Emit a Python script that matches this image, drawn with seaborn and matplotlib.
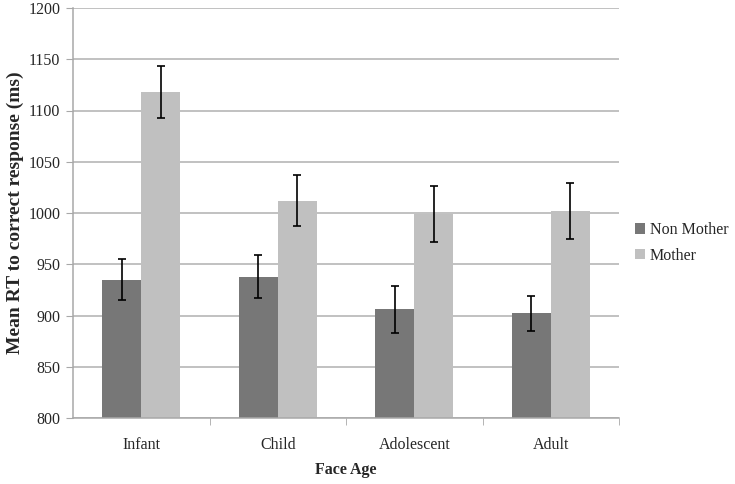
import matplotlib
matplotlib.use("Agg")
import matplotlib.pyplot as plt
import seaborn as sns
import pandas as pd
import numpy as np

categories = ["Infant", "Child", "Adolescent", "Adult"]
groups = ["Non Mother", "Mother"]
non_mother = [935, 938, 906, 902]
mother = [1118, 1012, 999, 1002]
non_mother_err = [20, 21, 23, 17]
mother_err = [25, 25, 27, 27]

df = pd.DataFrame({
    "Face Age": categories * 2,
    "Group": [groups[0]] * 4 + [groups[1]] * 4,
    "RT": non_mother + mother,
})

sns.set_style("white")
plt.rcParams["font.family"] = ["Liberation Serif", "DejaVu Serif"]

fig = plt.figure(figsize=(7.35, 4.84), dpi=100)
ax = fig.add_axes([73 / 735, 1 - 418 / 484, (619 - 73) / 735, (418 - 8) / 484])

palette = {"Non Mother": "#777777", "Mother": "#c0c0c0"}
sns.barplot(data=df, x="Face Age", y="RT", hue="Group", order=categories,
            hue_order=groups, palette=palette, width=0.572, errorbar=None,
            saturation=1, ax=ax, zorder=2, linewidth=0)

# error bars at bar centres
errs = {"Non Mother": non_mother_err, "Mother": mother_err}
vals = {"Non Mother": non_mother, "Mother": mother}
for container, g in zip(ax.containers, groups):
    xs = [p.get_x() + p.get_width() / 2 for p in container.patches]
    ax.errorbar(xs, vals[g], yerr=errs[g], fmt="none", ecolor="black",
                elinewidth=1.2, capsize=3, capthick=1.2, zorder=3)

ax.set_ylim(800, 1200)
ax.set_xlim(-0.5, 3.5)
ax.set_yticks(np.arange(800, 1201, 50))
ax.yaxis.grid(True, color="#b0b0b0", linewidth=1.1, zorder=0)
ax.set_axisbelow(True)
for s in ["top", "right"]:
    ax.spines[s].set_visible(False)
for s in ["left", "bottom"]:
    ax.spines[s].set_color("#a8a8a8")
    ax.spines[s].set_linewidth(1.1)

ax.tick_params(axis="y", which="major", left=True, length=5, color="#a8a8a8",
               labelsize=11.5, pad=4)
ax.tick_params(axis="x", which="major", bottom=False, labelsize=11.5, pad=10)
ax.set_xticks([0.5, 1.5, 2.5, 3.5], minor=True)
ax.tick_params(axis="x", which="minor", bottom=True, length=5, color="#a8a8a8")

ax.set_xlabel("Face Age", fontsize=11.5, fontweight="bold", labelpad=7)
ax.set_ylabel("Mean RT to correct response (ms)", fontsize=14, fontweight="bold", labelpad=3)

leg = ax.legend(loc="center left", bbox_to_anchor=(1.03, 0.427), frameon=False,
                fontsize=11.5, handlelength=0.6, handleheight=0.6,
                handletextpad=0.3, labelspacing=0.6, borderaxespad=0, borderpad=0)

fig.savefig("out.png", dpi=100)
